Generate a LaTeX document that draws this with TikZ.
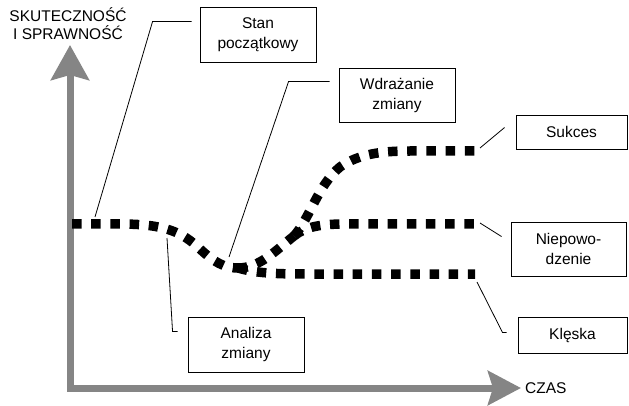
\documentclass[tikz,border=0pt]{standalone}
\usepackage{fontspec}
\setmainfont{Liberation Sans}
\usetikzlibrary{arrows.meta}

\definecolor{axisgray}{gray}{0.52}

\tikzset{
  labelbox/.style={draw, line width=0.9pt, align=center, inner sep=0pt,
    font=\fontsize{15.5}{20}\selectfont},
  axislabel/.style={align=center, inner sep=0pt, font=\fontsize{15.5}{18}\selectfont},
  axisline/.style={draw=axisgray, line width=7pt,
    {Stealth[length=35pt, width=38pt, inset=5pt]}-{Stealth[length=33pt, width=34pt, inset=5pt]}},
  trend/.style={line width=9.5pt, dash pattern=on 9.5pt off 9.7pt},
  leader/.style={line width=0.8pt}
}

\begin{document}
\begin{tikzpicture}[x=1pt, y=-1pt]
  \useasboundingbox (0,0) rectangle (629,406);

  % Axes
  \coordinate (ytip) at (70,45);
  \coordinate (xtip) at (521,388);
  \draw[axisline] (ytip) |- (xtip);
  \node[axislabel] (ylab) at (68,24) {SKUTECZNOŚĆ\\I SPRAWNOŚĆ};
  \node[axislabel, anchor=west] (xlab) at (525,388) {CZAS};

  % Boxes
  \node[labelbox, minimum width=116pt, minimum height=55pt] (stan) at (258,34.5) {Stan\\początkowy};
  \node[labelbox, minimum width=116pt, minimum height=54pt] (wdraz) at (397,95) {Wdrażanie\\zmiany};
  \node[labelbox, minimum width=111pt, minimum height=34pt] (sukces) at (571.5,132) {Sukces};
  \node[labelbox, minimum width=115pt, minimum height=54pt] (niepow) at (568.5,249) {Niepowo-\\dzenie};
  \node[labelbox, minimum width=109pt, minimum height=36pt] (kleska) at (572.5,335) {Klęska};
  \node[labelbox, minimum width=116pt, minimum height=55pt] (analiza) at (246,344.5) {Analiza\\zmiany};

  % Curves
  \coordinate (start) at (72,224);
  \coordinate (dip) at (238,268);
  \coordinate (split) at (294,236);
  \coordinate (send) at (475,151);
  \coordinate (nend) at (475,224);
  \coordinate (kend) at (475,274);
  \draw[trend] (start) -- (120,224) .. controls (165,224) and (182,232) .. (200,249)
    .. controls (214,262) and (224,268) .. (dip);
  \draw[trend] (dip) .. controls (255,273) and (275,274) .. (305,274) -- (kend);
  \draw[trend] (dip) .. controls (260,268) and (276,250) .. (split);
  \draw[trend] (split) .. controls (305,227) and (320,224) .. (345,224) -- (nend);
  \draw[trend] (split) .. controls (310,218) and (318,185) .. (340,167)
    .. controls (360,153) and (385,151) .. (410,151) -- (send);

  % Leaders
  \coordinate (pstan) at (95,217);
  \coordinate (pwdraz) at (229,257);
  \coordinate (panaliza) at (167,238);
  \draw[leader] ([xshift=-8pt, yshift=-15pt]stan.north west) -- ++(-39,0) -- (pstan);
  \draw[leader] ([xshift=-9pt, yshift=-14pt]wdraz.north west) -- ++(-41,0) -- (pwdraz);
  \draw[leader] ([xshift=-11pt, yshift=-13pt]sukces.north west) -- ([xshift=5pt, yshift=3pt]send);
  \draw[leader] ([xshift=-9pt, yshift=-15pt]niepow.north west) -- ([xshift=5pt, yshift=1pt]nend);
  \draw[leader] ([xshift=-11pt, yshift=-16pt]kleska.north west) -- ++(-4,0) -- ([xshift=2pt, yshift=-8pt]kend);
  \draw[leader] ([xshift=-10pt, yshift=-15pt]analiza.north west) -- ++(-5,0) -- (panaliza);
\end{tikzpicture}
\end{document}
